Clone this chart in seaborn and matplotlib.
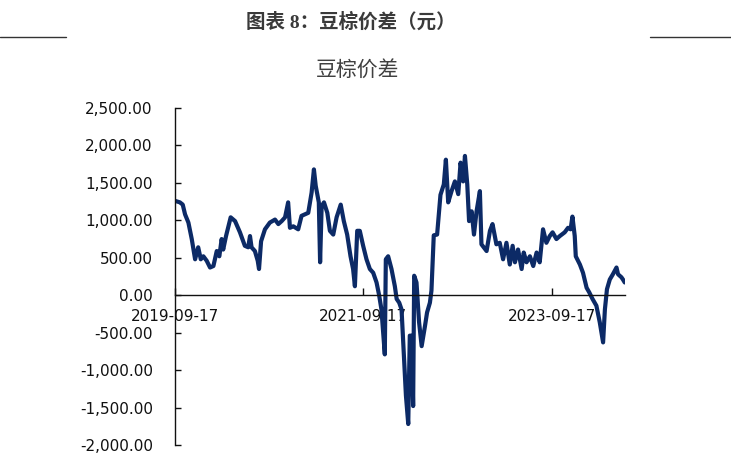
import matplotlib
matplotlib.use("Agg")
import matplotlib.pyplot as plt
import seaborn as sns
import pandas as pd
from matplotlib.lines import Line2D
from matplotlib.ticker import FuncFormatter

# ---- data ----
dates = [
    "2019-09-17", "2019-10-06", "2019-10-17", "2019-10-26", "2019-11-08", "2019-11-21",
    "2019-12-04", "2019-12-16", "2019-12-26", "2020-01-05", "2020-01-18", "2020-01-31",
    "2020-02-13", "2020-02-26", "2020-03-07", "2020-03-16", "2020-03-22", "2020-04-02",
    "2020-04-20", "2020-05-07", "2020-05-26", "2020-06-14", "2020-06-27", "2020-07-04",
    "2020-07-10", "2020-07-23", "2020-08-03", "2020-08-08", "2020-08-16", "2020-08-31",
    "2020-09-19", "2020-10-09", "2020-10-22", "2020-11-04", "2020-11-17", "2020-11-29",
    "2020-12-06", "2020-12-19", "2021-01-07", "2021-01-20", "2021-02-15", "2021-02-28",
    "2021-03-09", "2021-03-16", "2021-03-28", "2021-04-02", "2021-04-08", "2021-04-17",
    "2021-04-30", "2021-05-10", "2021-05-23", "2021-06-05", "2021-06-21", "2021-07-03",
    "2021-07-16", "2021-07-29", "2021-08-08", "2021-08-15", "2021-08-24", "2021-09-03",
    "2021-09-16", "2021-09-29", "2021-10-12", "2021-10-25", "2021-11-07", "2021-11-17",
    "2021-11-26", "2021-12-09", "2021-12-13", "2021-12-22", "2022-01-04", "2022-01-17",
    "2022-01-24", "2022-02-03", "2022-02-12", "2022-02-21", "2022-03-01", "2022-03-10",
    "2022-03-16", "2022-03-23", "2022-03-29", "2022-04-02", "2022-04-11", "2022-04-21",
    "2022-05-01", "2022-05-14", "2022-05-22", "2022-06-02", "2022-06-08", "2022-06-17",
    "2022-06-30", "2022-07-13", "2022-07-26", "2022-08-03", "2022-08-12", "2022-08-25",
    "2022-09-07", "2022-09-20", "2022-09-29", "2022-10-09", "2022-10-16", "2022-10-25",
    "2022-11-01", "2022-11-11", "2022-11-20", "2022-11-30", "2022-12-13", "2022-12-19",
    "2022-12-28", "2023-01-08", "2023-01-21", "2023-01-31", "2023-02-15", "2023-02-28",
    "2023-03-13", "2023-03-26", "2023-04-08", "2023-04-19", "2023-04-28", "2023-05-10",
    "2023-05-24", "2023-06-01", "2023-06-12", "2023-06-25", "2023-07-08", "2023-07-21",
    "2023-08-02", "2023-08-15", "2023-08-28", "2023-09-10", "2023-09-21", "2023-10-06",
    "2023-10-19", "2023-11-07", "2023-11-20", "2023-11-30", "2023-12-07", "2023-12-16",
    "2023-12-20", "2024-01-05", "2024-01-17", "2024-01-31", "2024-02-10", "2024-02-23",
    "2024-03-09", "2024-03-22", "2024-04-04", "2024-04-11", "2024-04-19", "2024-04-30",
    "2024-05-12", "2024-05-26", "2024-06-01", "2024-06-14", "2024-06-20", "2024-06-27",
]
spread = [
    1260, 1240, 1210, 1080, 970, 750,
    480, 640, 480, 520, 460, 370,
    390, 590, 520, 750, 610, 790,
    1040, 990, 840, 660, 640, 790,
    640, 590, 460, 350, 720, 880,
    970, 1010, 950, 990, 1040, 1240,
    900, 920, 880, 1060, 1100, 1370,
    1680, 1460, 1240, 440, 1190, 1240,
    1100, 860, 810, 1040, 1210, 990,
    810, 520, 350, 120, 860, 860,
    660, 480, 350, 300, 170, 0,
    -190, -790, 480, 520, 350, 120,
    -50, -100, -190, -810, -1340, -1720,
    -540, -540, -1480, 260, 170, -360,
    -680, -410, -230, -100, 60, 800,
    810, 1340, 1480, 1810, 1240, 1390,
    1520, 1350, 1770, 1520, 1860, 1480,
    990, 1120, 810, 1120, 1390, 680,
    640, 590, 860, 950, 680, 700,
    480, 700, 410, 660, 440, 610,
    350, 570, 440, 520, 390, 570,
    440, 880, 700, 790, 840, 750,
    790, 840, 900, 880, 1050, 790,
    520, 410, 300, 100, 40, -50,
    -140, -360, -630, -190, 80, 210,
    280, 370, 280, 240, 210, 170,
]
y_ticks = [-2000, -1500, -1000, -500, 0, 500, 1000, 1500, 2000, 2500]
x_tick_labels = ["2019-09-17", "2021-09-17", "2023-09-17"]
header_title = "图表 8：豆棕价差（元）"
chart_title = "豆棕价差"

# ---- style ----
sns.set_theme(style="white")
plt.rcParams['font.family'] = ['DejaVu Sans', 'Noto Sans CJK SC']

W, H = 731, 455
fig = plt.figure(figsize=(W / 100, H / 100), dpi=100)
ax = fig.add_axes([175 / W, 1 - 445 / H, (625 - 175) / W, (445 - 108) / H])

df = pd.DataFrame({"date": pd.to_datetime(dates), "spread": spread})
sns.lineplot(data=df, x="date", y="spread", ax=ax, color="#0c2a66", linewidth=3.0)

ax.set_ylim(-2000, 2500)
ax.set_xlim(pd.Timestamp("2019-09-17"), pd.Timestamp("2024-06-28"))
ax.set_yticks(y_ticks)
ax.yaxis.set_major_formatter(FuncFormatter(lambda v, p: f"{v:,.2f}"))
ax.set_xticks(pd.to_datetime(x_tick_labels))
ax.set_xticklabels(x_tick_labels)
ax.set_xlabel("")
ax.set_ylabel("")
ax.grid(False)

for s in ("top", "right"):
    ax.spines[s].set_visible(False)
ax.spines["bottom"].set_position(("data", 0))
for s in ("left", "bottom"):
    ax.spines[s].set_color("#111111")
    ax.spines[s].set_linewidth(1.0)

ax.tick_params(axis="y", direction="in", length=4, width=1, pad=16,
               labelsize=11, colors="#111111", left=True)
ax.tick_params(axis="x", direction="in", length=5, width=1, pad=10,
               labelsize=11, colors="#111111", bottom=True)

# ---- header ----
ly = 1 - 37 / H
fig.add_artist(Line2D([0, 66 / W], [ly, ly], color="#333333", lw=1.0))
fig.add_artist(Line2D([650 / W, 1], [ly, ly], color="#333333", lw=1.0))
fig.text(351 / W, 1 - 22 / H, header_title, ha="center", va="center",
         fontsize=14, fontweight="bold", color="#3a3a3a",
         family=["Liberation Serif", "Noto Sans CJK SC"])
fig.text(358 / W, 1 - 70 / H, chart_title, ha="center", va="center",
         fontsize=15, color="#404040", family=["Noto Sans CJK SC"])

fig.save_path = "out.png"
fig.savefig("out.png", dpi=100)
